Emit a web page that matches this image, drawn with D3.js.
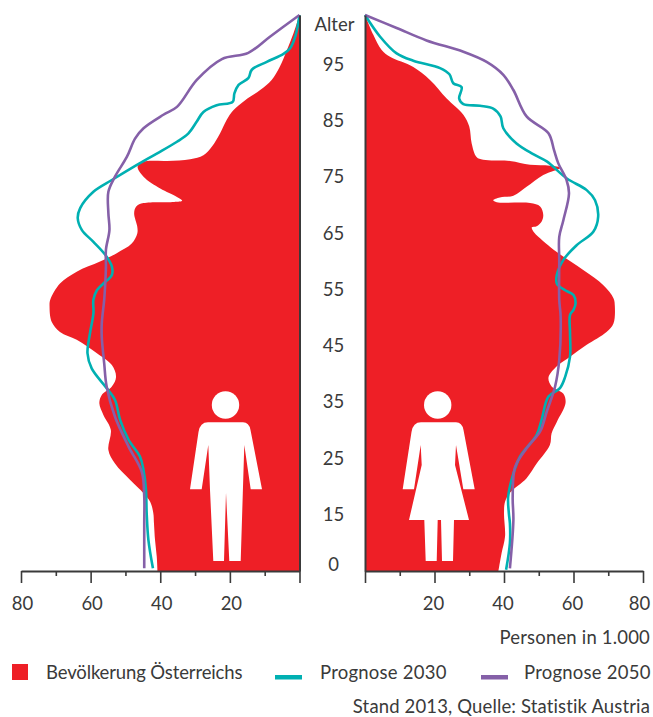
<!DOCTYPE html>
<html>
<head>
<meta charset="utf-8">
<script src="https://cdn.jsdelivr.net/npm/d3@7"></script>
<style>
  html, body { margin: 0; padding: 0; background: #fff; }
  svg { display: block; }
  text { font-family: Lato, "Noto Sans", sans-serif; font-size: 18.5px; fill: #3a3a3a; }
</style>
</head>
<body>
<div class="container"></div>
<script>
// [age, persons in 1.000]
const maleNow = [[103.5,0],[100.3,1.7],[97.3,3.6],[94.3,5.7],[92,8],[90.2,11.3],[88.4,15.6],[86.6,19],[84.9,20.9],[82.5,22.8],[80.1,25.2],[78.6,27.6],[77.9,31.4],[77.6,38],[77.45,44.8],[76.6,46.5],[74.8,44.8],[72.7,40],[71.2,35.2],[70.5,33.7],[70.3,36],[70.1,44.8],[69.5,46.9],[68.3,47.5],[65.9,46.6],[64.7,46.6],[62.9,48.2],[61.2,52.5],[59.7,57.3],[57.9,64],[55.8,68.8],[52.9,71.6],[51.7,71.8],[49,71.2],[47.2,68.8],[45.8,64],[43.4,58.2],[41.3,53.9],[39.2,52.7],[37.5,53.9],[36,56.8],[34.5,57.5],[32.4,56.3],[29.8,54.2],[26.2,54.9],[23.8,53],[20.9,48.7],[18.5,44.8],[17,42.9],[15,42],[12.3,41.8],[8,41.5],[3.7,41],[0,40.8]];
const male2030 = [[103.5,0],[99.7,1.2],[97.6,2.7],[96.6,4.6],[95.2,9.4],[93.8,13.7],[92.3,14.7],[91.1,17.5],[89.6,18.7],[88.1,19.2],[87.5,23.8],[86.3,27.6],[84.6,29.5],[82.5,31.9],[81,35.2],[78.9,41],[76.9,46.7],[74.2,53.9],[72.1,59.2],[69.2,63],[67.4,63.7],[65.3,62.5],[63.2,59.2],[60.9,55.8],[58.8,53.9],[57.3,53.9],[55.8,56.3],[54.6,58.2],[52.9,59.2],[50.5,59.2],[46.9,60.2],[43.4,60.9],[40.7,59.7],[37.2,55.4],[35.1,53],[31.5,51.5],[28,49.1],[25,45.8],[22.6,44.8],[19.1,44.1],[15,43.9],[8,43.4],[0.7,42.1]];
const male2050 = [[103.5,0],[99.7,8.4],[96.8,14.7],[95.7,22.3],[92,29.5],[87.2,35.2],[85.8,39.1],[83.4,44.8],[81.6,47.2],[78.3,49.6],[74.8,53],[72.1,54.9],[68.3,54.9],[65.3,54.6],[61.8,55.6],[58.8,55.6],[55.8,55.8],[52.9,56.1],[48.7,56.8],[46.3,56.8],[41.6,56.1],[37.5,55.4],[32.1,53],[26.8,49.1],[22.3,45.3],[17.9,44.6],[12.3,44.6],[0.7,44.6]];
const femaleNow = [[103.5,0],[100,2.4],[97.3,4.8],[96.1,7.2],[94.3,13.9],[92,18.7],[88.7,23.5],[85.8,28.3],[83.7,30],[80.7,30.7],[78.3,32.1],[77.8,34],[77.6,41.7],[76.9,47.5],[76.75,53.2],[76.4,56.3],[75.1,51.3],[73,46.5],[71.4,42.7],[71.1,38.8],[70.6,36.9],[70.25,37.9],[70.1,47.5],[69.5,50.4],[68,51.3],[66.8,50.8],[66,49.4],[65.8,48],[65,48.5],[64.4,49.4],[61.4,55.2],[58.2,62.8],[55.5,68.6],[53.2,71.5],[51.7,71.9],[48.7,71.5],[47.2,69.5],[44.9,63.8],[42.8,59],[41.1,55.2],[39.1,52.8],[37.5,53.7],[36.2,57.1],[34.5,57.7],[31.2,55.2],[29.2,53.7],[27.1,53.2],[23.8,49.4],[21.2,46.5],[18.6,41.7],[17,40.3],[15,40],[8.9,40.3],[4.6,39.3],[0,38.4]];
const female2030 = [[103.5,0],[99.7,4.3],[96.7,9.1],[95.4,13.9],[94.1,21.6],[93,24.3],[91.4,25.4],[90.7,27.8],[88.7,27.1],[87.7,28.3],[87.4,33.1],[86.9,36.9],[85.5,39],[83.4,39.8],[80.7,43.6],[78.8,48.4],[77.5,52.3],[74.5,58],[72.4,63.8],[70.6,66.2],[67.7,67.1],[65,65.7],[62.6,60.9],[60,57.1],[57.3,55.2],[55.8,55.2],[55.2,56.1],[54.6,57.6],[53.75,60],[52.3,60.6],[51.1,60],[50.2,59],[47,59],[42.8,59],[39.2,57.6],[37.2,56.1],[35.7,52.8],[31.5,50.8],[28.9,49.4],[25,44.6],[22,42.7],[17.9,41.2],[14.9,41.4],[12.3,41.7],[7.2,41.7],[0.3,40.6]];
const female2050 = [[103.5,0],[101.2,9.1],[99,17.7],[97,28.3],[95.2,35],[92.9,39.8],[90.2,42.7],[85.5,46.5],[82.5,52.8],[79.5,54.4],[77.2,55.6],[74.2,58],[71.8,58.7],[67.1,57.1],[64.1,55.9],[60,55.9],[52.9,55.9],[49.9,56.3],[42.2,55.9],[37.5,54.7],[33,52.3],[29.5,50.4],[26.5,46.5],[23.2,43.2],[17.9,42.5],[13.2,42.7],[0.7,41.7]];

const ageLabels = [0, 15, 25, 35, 45, 55, 65, 75, 85, 95];
const axisTicks = [0, 10, 20, 30, 40, 50, 60, 70, 80];

const red = "#ee1f26", teal = "#00b0b2", purple = "#8560a8", dark = "#3a3a3a";

const width = 653, height = 717;

const svg = d3.select(".container").append("svg")
  .attr("width", width)
  .attr("height", height);

// the printed age scale is squeezed below 15
const yScale = d3.scaleLinear().domain([0, 15, 95, 103.5]).range([571, 513, 63, 15]);
const xLeft = d3.scaleLinear().domain([0, 80]).range([299.5, 21]);
const xRight = d3.scaleLinear().domain([0, 80]).range([365, 643]);

const curve = d3.curveCatmullRom.alpha(0.5);

const drawSide = (x, now, y2030, y2050) => {
  const area = d3.area().curve(curve)
    .y(d => yScale(d[0]))
    .x0(x(0))
    .x1(d => x(d[1]));
  const line = d3.line().curve(curve)
    .x(d => x(d[1]))
    .y(d => yScale(d[0]));

  svg.append("path").attr("d", area(now)).attr("fill", red);

  svg.append("path").attr("d", line(y2030))
    .attr("fill", "none").attr("stroke", teal).attr("stroke-width", 2.6);
  svg.append("path").attr("d", line(y2050))
    .attr("fill", "none").attr("stroke", purple).attr("stroke-width", 2.6);
};

drawSide(xLeft, maleNow, male2030, male2050);
drawSide(xRight, femaleNow, female2030, female2050);

// axes
const styleAxis = (g, labelShift) => {
  g.selectAll(".domain").attr("stroke", dark).attr("stroke-width", 2);
  g.selectAll(".tick line").attr("stroke", dark).attr("stroke-width", 1.6)
    .attr("y2", d => d % 20 === 0 ? 12 : 5);
  g.selectAll(".tick text").attr("y", 26).attr("dy", "0.71em")
    .attr("x", labelShift)
    .style("font-size", "18.5px").style("font-family", null);
};

const bottomAxis = x => d3.axisBottom(x)
  .tickValues(axisTicks)
  .tickSizeOuter(0)
  .tickFormat(d => d > 0 && d % 20 === 0 ? d : "");

svg.append("g").attr("transform", "translate(0, 571)").call(bottomAxis(xLeft)).call(styleAxis, () => 1);
svg.append("g").attr("transform", "translate(0, 571)").call(bottomAxis(xRight)).call(styleAxis, d => d === 80 ? -4 : -1.5);

[xLeft, xRight].forEach(x => {
  svg.append("g")
    .attr("transform", `translate(${x(0)}, 0)`)
    .call(d3.axisLeft(yScale).tickValues([]).tickSizeOuter(0))
    .call(g => g.select(".domain").attr("stroke", dark).attr("stroke-width", 2));
});

// age labels
svg.selectAll(".age")
  .data(ageLabels)
  .enter()
  .append("text")
  .attr("class", "age")
  .attr("x", 333.5)
  .attr("y", d => d === 0 ? yScale(d) - 6 : yScale(d) + 1.5)
  .attr("dy", "0.35em")
  .attr("text-anchor", "middle")
  .text(d => d);

svg.append("text").attr("x", 334.5).attr("y", 24.5).attr("dy", "0.35em")
  .attr("text-anchor", "middle").text("Alter");

// figures
const man = "M208.3 445 L201.7 489.3 L190 489.3 L198.5 432 Q200 422.3 208 422.3 L243 422.3 Q249 422.3 250.5 430 L262 489.3 L250.7 489.3 L244.3 445 L240.7 561 L229.3 561 L226 492.7 L224 561 L213.3 561 L210 490 Z";
const woman = "M420.7 445 L414 489.3 L402.7 489.3 L411.5 432 Q413 422.3 421 422.3 L456 422.3 Q462 422.3 463.5 430 L474.7 489.3 L463.3 489.3 L456 445 L455 465 L469 520 L454 520 L453 561 L442 561 L441 520 L437.7 520 L436.7 561 L425.7 561 L424.3 520 L409 520 L421.7 465 Z";

svg.append("path").attr("d", man).attr("fill", "#fff");
svg.append("path").attr("d", woman).attr("fill", "#fff");
svg.append("circle").attr("cx", 225.5).attr("cy", 405).attr("r", 13.7).attr("fill", "#fff");
svg.append("circle").attr("cx", 437.7).attr("cy", 405).attr("r", 13.7).attr("fill", "#fff");

// captions and legend
const caption = (txt, x, y, anchor, spacing) => svg.append("text")
  .attr("x", x).attr("y", y).attr("text-anchor", anchor)
  .style("letter-spacing", spacing + "px").text(txt);

caption("Personen in 1.000", 650, 644, "end", 0.18);
caption("Bevölkerung Österreichs", 46, 679, "start", -0.13);
caption("Prognose 2030", 320, 679, "start", 0.23);
caption("Prognose 2050", 524, 679, "start", 0.23);
caption("Stand 2013, Quelle: Statistik Austria", 650, 712.5, "end", 0.14);

svg.append("rect").attr("x", 12).attr("y", 664).attr("width", 16).attr("height", 16).attr("fill", red);
svg.append("rect").attr("x", 275).attr("y", 675).attr("width", 27).attr("height", 4.5).attr("fill", teal);
svg.append("rect").attr("x", 481).attr("y", 675).attr("width", 27).attr("height", 4.5).attr("fill", purple);
</script>
</body>
</html>
